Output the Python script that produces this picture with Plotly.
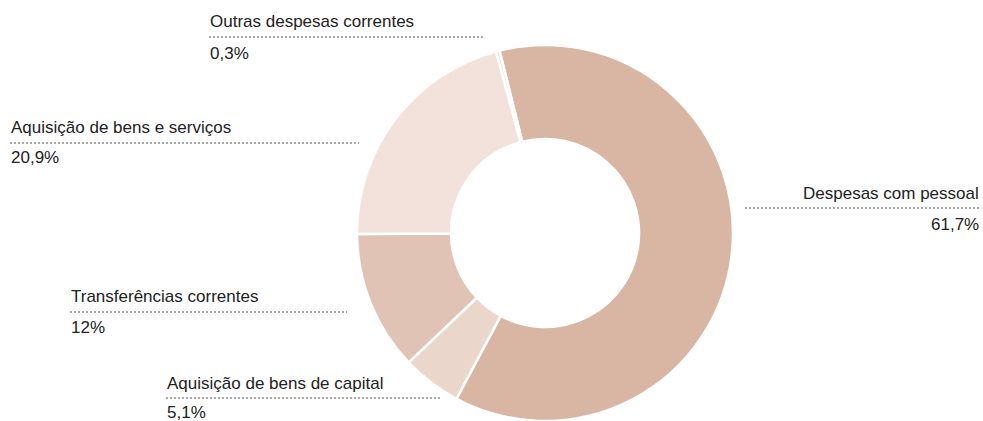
import plotly.graph_objects as go

# Budget breakdown by expense type (percent of total)
categories = [
    "Despesas com pessoal",
    "Aquisição de bens de capital",
    "Transferências correntes",
    "Aquisição de bens e serviços",
    "Outras despesas correntes",
]
values = [61.7, 5.1, 12, 20.9, 0.3]
colors = ["#d9b6a4", "#ead6cb", "#e1c3b5", "#f2e2db", "#f0dfd7"]

W, H = 983, 421

# Callout layout for each category: title anchor x, line span, title/line/value y (pixels)
callouts = {
    "Outras despesas correntes":    dict(x0=209, x1=483, ty=21.5, ly=37, vy=53.5, side="left"),
    "Aquisição de bens e serviços": dict(x0=10,  x1=359, ty=127,  ly=143, vy=158,  side="left"),
    "Despesas com pessoal":         dict(x0=745, x1=980, ty=193,  ly=208, vy=224,  side="right"),
    "Transferências correntes":     dict(x0=70,  x1=347, ty=296.5, ly=312, vy=327, side="left"),
    "Aquisição de bens de capital": dict(x0=166, x1=440, ty=383.5, ly=398, vy=412.5, side="left"),
}


def px_x(x):
    return x / W


def px_y(y):
    return 1 - y / H


def fmt_pct(v):
    return f"{v:g}".replace(".", ",") + "%"


# Donut geometry in pixels
cx, cy, r = 545, 233, 188

fig = go.Figure(
    go.Pie(
        labels=categories,
        values=values,
        sort=False,
        direction="clockwise",
        rotation=-14,
        hole=0.5,
        marker=dict(colors=colors, line=dict(color="#ffffff", width=2.5)),
        textinfo="none",
        hoverinfo="label+percent",
        domain=dict(x=[px_x(cx - r), px_x(cx + r)], y=[px_y(cy + r), px_y(cy - r)]),
        showlegend=False,
    )
)

font = dict(family="Liberation Sans, Arial, sans-serif", size=17, color="#222222")
annotations = []
shapes = []
for name, v in zip(categories, values):
    c = callouts[name]
    ax = c["x0"] if c["side"] == "left" else c["x1"]
    anchor = "left" if c["side"] == "left" else "right"
    for text, y in ((name, c["ty"]), (fmt_pct(v), c["vy"])):
        annotations.append(
            dict(
                x=px_x(ax), y=px_y(y), xref="paper", yref="paper",
                text=text, showarrow=False, xanchor=anchor, yanchor="middle",
                font=font, xshift=-1 if anchor == "left" else 1,
            )
        )
    shapes.append(
        dict(
            type="line", xref="paper", yref="paper",
            x0=px_x(c["x0"]), x1=px_x(c["x1"]), y0=px_y(c["ly"]), y1=px_y(c["ly"]),
            line=dict(color="#a9a9a9", width=2, dash="2px,2px"),
        )
    )

fig.update_layout(
    width=W, height=H,
    margin=dict(l=0, r=0, t=0, b=0),
    paper_bgcolor="#ffffff",
    plot_bgcolor="#ffffff",
    annotations=annotations,
    shapes=shapes,
)

fig.write_html("out.html")
